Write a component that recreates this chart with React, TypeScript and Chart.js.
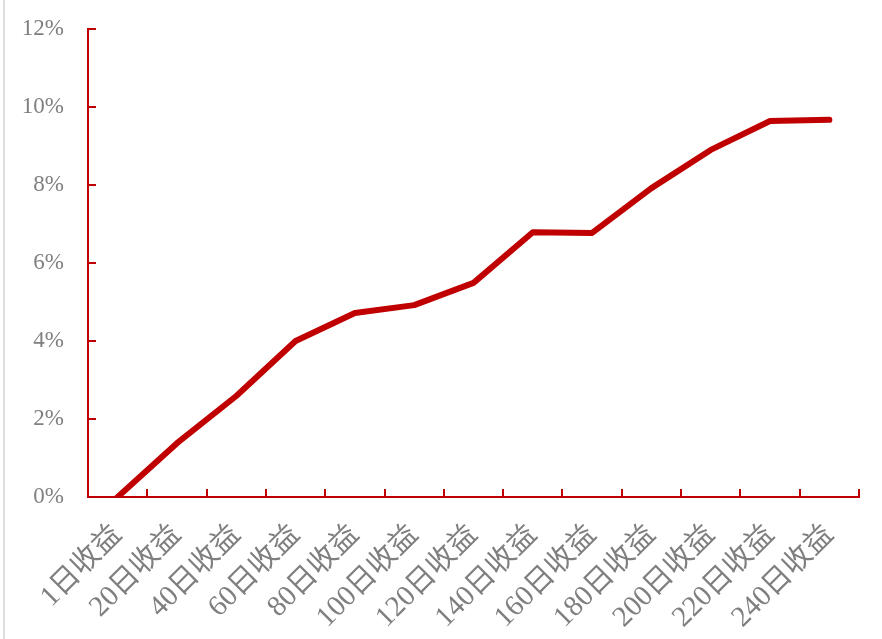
import React, { useEffect, useRef } from "react";
import { Chart, registerables } from "chart.js";

Chart.register(...registerables);

const categories = [
  "1日收益", "20日收益", "40日收益", "60日收益", "80日收益", "100日收益", "120日收益",
  "140日收益", "160日收益", "180日收益", "200日收益", "220日收益", "240日收益",
];
const returns = [0.0, 1.38, 2.59, 4.0, 4.72, 4.92, 5.49, 6.79, 6.77, 7.92, 8.9, 9.64, 9.67];
const yTicks = [0, 2, 4, 6, 8, 10, 12];

const AXIS_COLOR = "#C00000";
const TEXT_COLOR = "#7F7F7F";
const FONT_FAMILY = "'Liberation Serif', 'Noto Sans CJK SC', serif";

const innerTicks = {
  id: "innerTicks",
  afterDatasetsDraw(chart: any) {
    const { ctx, chartArea, scales } = chart;
    const x = scales.x;
    const y = scales.y;
    ctx.save();
    ctx.strokeStyle = AXIS_COLOR;
    ctx.lineWidth = 2;
    ctx.beginPath();
    yTicks.forEach((v) => {
      const py = Math.round(y.getPixelForValue(v));
      ctx.moveTo(chartArea.left, py);
      ctx.lineTo(chartArea.left + 8, py);
    });
    for (let k = 0; k <= categories.length; k++) {
      const px = Math.round(x.getPixelForValue(k - 0.5));
      ctx.moveTo(px, chartArea.bottom);
      ctx.lineTo(px, chartArea.bottom - 8);
    }
    ctx.stroke();
    ctx.restore();
  },
};

export default function App() {
  const ref = useRef<HTMLCanvasElement | null>(null);
  useEffect(() => {
    if (!ref.current) return;
    const chart = new Chart(ref.current, {
      type: "line",
      data: {
        labels: categories,
        datasets: [
          {
            data: returns,
            borderColor: "#C00000",
            backgroundColor: "#C00000",
            borderWidth: 6,
            pointRadius: 0,
            borderCapStyle: "round",
            borderJoinStyle: "round",
            tension: 0,
          },
        ],
      },
      options: {
        animation: false,
        responsive: false,
        maintainAspectRatio: false,
        layout: { padding: { left: 0, right: 23, top: 29, bottom: 0 } },
        plugins: { legend: { display: false }, tooltip: { enabled: false } },
        scales: {
          x: {
            offset: true,
            grid: { display: false, drawTicks: false, tickLength: 0 },
            border: { display: true, color: AXIS_COLOR, width: 2 },
            ticks: {
              color: TEXT_COLOR,
              font: { family: FONT_FAMILY, size: 29 },
              maxRotation: 45,
              minRotation: 45,
              padding: 21,
              autoSkip: false,
            },
            afterFit: (s: any) => {
              s.height = 142;
              s.paddingLeft = 0;
              s.paddingRight = 0;
            },
          },
          y: {
            min: 0,
            max: 12,
            grid: { display: false, drawTicks: false, tickLength: 0 },
            border: { display: true, color: AXIS_COLOR, width: 2 },
            afterBuildTicks: (s: any) => {
              s.ticks = yTicks.map((v) => ({ value: v }));
            },
            ticks: {
              color: TEXT_COLOR,
              font: { family: FONT_FAMILY, size: 23 },
              padding: 24,
              callback: (v: any) => v + "%",
            },
            afterFit: (s: any) => {
              s.width = 88;
              s.paddingTop = 0;
              s.paddingBottom = 0;
            },
          },
        },
      },
      plugins: [innerTicks],
    });
    return () => chart.destroy();
  }, []);
  return (
    <div style={{ position: "fixed", left: 0, top: 0, width: 882, height: 639, background: "#fff" }}>
      <div style={{ position: "absolute", left: 3, top: 0, width: 2, height: 639, background: "#DDDDDD" }} />
      <canvas ref={ref} width={882} height={639} style={{ position: "absolute", left: 0, top: 0 }} />
    </div>
  );
}
